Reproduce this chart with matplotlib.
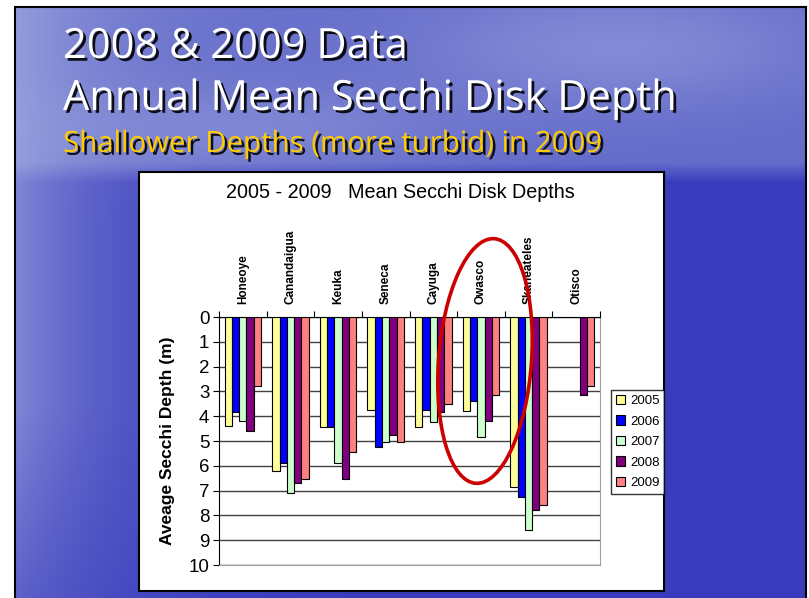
import numpy as np
import matplotlib
matplotlib.use('Agg')
import matplotlib.pyplot as plt
import matplotlib.patheffects as pe
from matplotlib.patches import Rectangle, Ellipse

#----------------------------------------------------------
lakes=['Honeoye','Canandaigua','Keuka','Seneca','Cayuga','Owasco','Skaneateles','Otisco']
years=['2005','2006','2007','2008','2009']
d2005=[4.4, 6.2, 4.45, 3.75, 4.45, 3.8, 6.85, np.nan]
d2006=[3.85, 5.9, 4.45, 5.25, 3.75, 3.4, 7.25, np.nan]
d2007=[4.2, 7.1, 5.9, 5.05, 4.25, 4.85, 8.6, np.nan]
d2008=[4.6, 6.7, 6.55, 4.75, 3.85, 4.2, 7.8, 3.15]
d2009=[2.8, 6.55, 5.45, 5.05, 3.5, 3.15, 7.6, 2.8]
colors=['#FFFF99','#0000FF','#CCFFCC','#800080','#FF8080']

W=809
H=598
#----------------------------------------------------------
def fx(px):
	return px/W
def fy(py):
	return 1-py/H

def background(fig):
	# blue sky / sea backdrop of the slide
	h=H-7
	w=W-21
	yy,xx=np.mgrid[0:h,0:w]
	sky=np.array([100,108,202])/255.
	sea=np.array([56,60,188])/255.
	light=np.array([188,195,235])/255.
	horizon=165
	t=np.clip((yy-horizon+10)/20.,0,1)[...,None]
	base=sky*(1-t)+sea*t
	# lighter towards left edge, a few pale clouds up top
	k=(0.55*np.exp(-xx/110.)*(1-0.5*np.clip((yy-400)/200.,0,1)))[...,None]
	k2=(0.35*np.exp(-((yy-40)/60.)**2)*np.exp(-((xx-600)/200.)**2))[...,None]
	k3=(0.25*np.exp(-((yy-120)/40.)**2)*np.exp(-((xx-250)/180.)**2))[...,None]
	kk=k+k2+k3
	img=base*(1-kk)+light*kk
	ax=fig.add_axes([fx(15),0,fx(W-3)-fx(15),fy(7)],zorder=0)
	ax.imshow(img,aspect='auto',extent=[0,1,0,1])
	ax.set_axis_off()
	fig.patches.append(Rectangle((fx(15),-0.01),fx(806)-fx(15),fy(7)+0.01,
		transform=fig.transFigure,fill=False,edgecolor='black',lw=1.5,zorder=1))

def headings(fig):
	shadow=[pe.withSimplePatchShadow(offset=(2,-2),shadow_rgbFace='black',alpha=0.9)]
	fig.text(fx(63),fy(58),'2008 & 2009 Data',color='white',fontsize=30,
		family='Open Sans',va='baseline',path_effects=shadow,zorder=3)
	fig.text(fx(63),fy(110),'Annual Mean Secchi Disk Depth',color='white',fontsize=30,
		family='Open Sans',va='baseline',path_effects=shadow,zorder=3)
	fig.text(fx(63),fy(152),'Shallower Depths (more turbid) in 2009',color='#FFCC00',fontsize=21.2,
		family='Open Sans',va='baseline',path_effects=shadow,zorder=3)

def f_00():
	plt.rcParams['font.family']=['Liberation Sans','DejaVu Sans']
	fig=plt.figure(figsize=(W/100.,H/100.),dpi=100)
	fig.patch.set_facecolor('white')
	background(fig)
	headings(fig)

	#chart box
	fig.patches.append(Rectangle((fx(139),fy(591)),fx(664)-fx(139),fy(172)-fy(591),
		transform=fig.transFigure,facecolor='white',edgecolor='black',lw=1.5,zorder=2))
	fig.text(fx(400),fy(192),'2005 - 2009   Mean Secchi Disk Depths',fontsize=14.2,
		ha='center',va='center',zorder=3)

	ax=fig.add_axes([fx(219),fy(565),fx(600)-fx(219),fy(317)-fy(565)],zorder=3)
	ax.set_facecolor('white')

	x=np.arange(len(lakes))+0.5
	bw=0.153
	series=[d2005,d2006,d2007,d2008,d2009]
	for j in range(len(series)):
		ax.bar(x+(j-2)*bw,series[j],bw,color=colors[j],edgecolor='black',
			linewidth=0.8,label=years[j],zorder=3)

	ax.set_xlim(0,len(lakes))
	ax.set_ylim(10,0)
	ax.set_yticks(range(0,11))
	ax.yaxis.grid(True,color='#404040',lw=1,zorder=0)
	ax.set_axisbelow(True)

	#frame customization
	ax.spines['right'].set_color('#A0A0A0')
	ax.spines['bottom'].set_color('#A0A0A0')
	ax.spines['left'].set_color('black')
	ax.spines['top'].set_color('black')
	ax.xaxis.set_ticks_position('top')
	ax.set_xticks(range(0,len(lakes)+1))
	ax.set_xticklabels([])
	ax.set_xticks(x,minor=True)
	ax.set_xticklabels(lakes,minor=True,rotation=90,fontsize=8.5,fontweight='bold')
	ax.tick_params(axis='x',which='major',direction='out',length=4,top=True,bottom=False)
	ax.tick_params(axis='x',which='minor',length=0,pad=9,top=True,bottom=False,
		labeltop=True,labelbottom=False)
	ax.tick_params(axis='y',direction='out',length=4,labelsize=13.5,pad=3)

	ax.set_ylabel('Aveage Secchi Depth (m)',fontsize=12.5,fontweight='bold',labelpad=10)

	leg=fig.legend(loc='center left',bbox_to_anchor=(fx(611),fy(442)),fontsize=9.5,
		frameon=True,fancybox=False,edgecolor='black',handlelength=0.7,handleheight=0.7,
		handletextpad=0.4,labelspacing=0.62,borderpad=0.35,borderaxespad=0)
	leg.get_frame().set_linewidth(1)
	leg.set_zorder(4)

	#red ring around Owasco
	fig.patches.append(Ellipse((fx(485),fy(361)),fx(93),245./H,angle=-3,
		transform=fig.transFigure,fill=False,edgecolor='#CC0000',lw=2.6,zorder=5))

	fig.savefig('out.png',dpi=100)
#----------------------------------------------------------
if __name__=='__main__':
	f_00()
